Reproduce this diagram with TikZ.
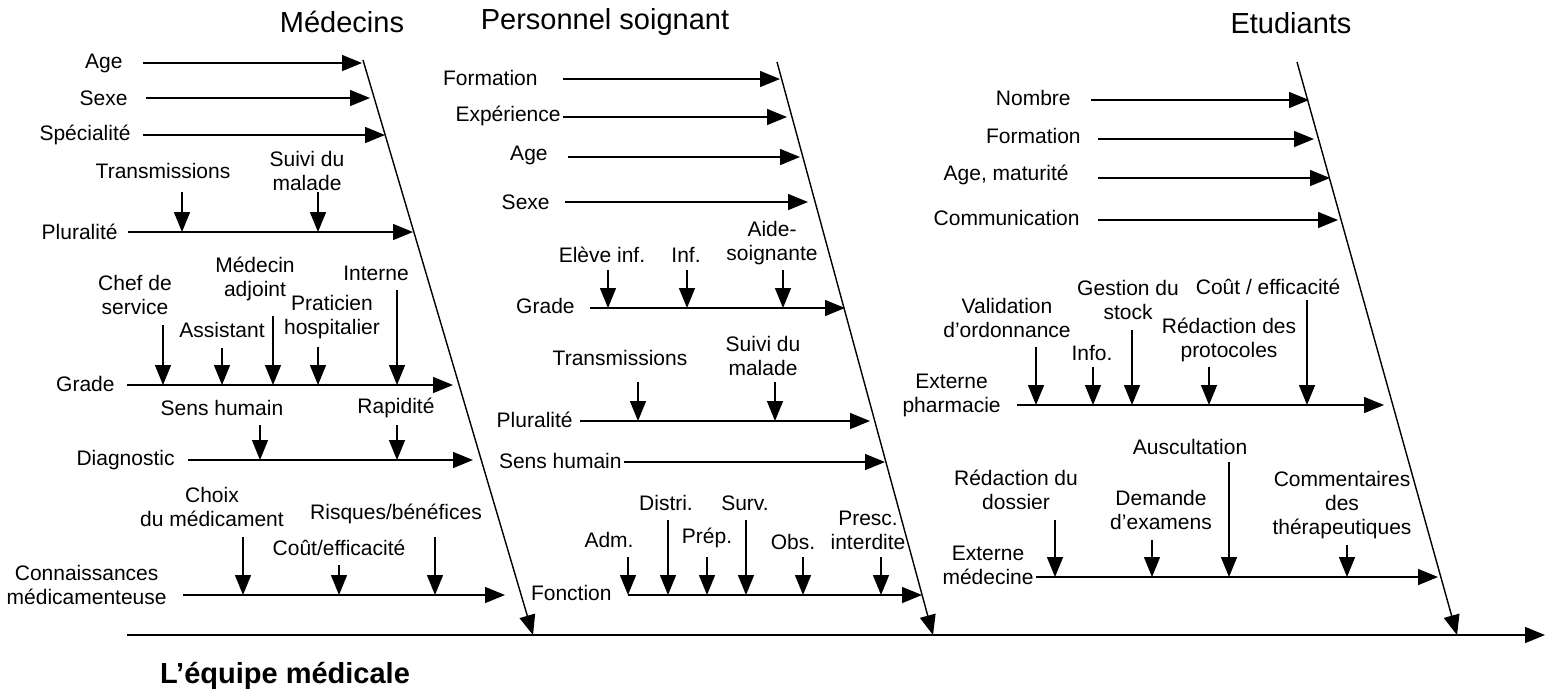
\documentclass[tikz,border=0pt]{standalone}
\usepackage{fontspec}
\setmainfont{Liberation Sans}
\usetikzlibrary{arrows.meta}

\tikzstyle{lbl} = [inner sep=1pt, align=center, font=\fontsize{10.5}{12}\selectfont]
\tikzstyle{titleNode} = [inner sep=1pt, font=\fontsize{14.5}{17}\selectfont]
\tikzstyle{arrow} = [line width=0.7pt,-{Triangle[length=10pt,width=8pt]}]
\tikzstyle{mainArrow} = [line width=0.8pt,-{Triangle[length=10pt,width=8pt]}]

\begin{document}
\begin{tikzpicture}[x=0.5pt,y=-0.5pt]
    \useasboundingbox (0,0) rectangle (1545,693);

    % titres
    \node (tMed)[titleNode] at (342,22) {Médecins};
    \node (tPers)[titleNode] at (605,22) {Personnel soignant};
    \node (tEtu)[titleNode] at (1291,23) {Etudiants};
    \node (tEquipe)[titleNode, font=\fontsize{14.5}{17}\selectfont\bfseries] at (285,676) {L’équipe médicale};

    % arête principale
    \coordinate (mainL) at (127,635);
    \coordinate (mainR) at (1545,635);
    \draw [mainArrow] (mainL) -- (mainR);

    % ----- Médecins -----
    \coordinate (medTop) at (363,60);
    \coordinate (medBot) at (533,635);
    \draw [arrow] (medTop) -- (medBot);

    \node (mAge)[lbl, anchor=east] at (125,63) {Age};
    \node (mSexe)[lbl, anchor=east] at (130,98) {Sexe};
    \node (mSpec)[lbl, anchor=east] at (133,135) {Spécialité};
    \node (mPlur)[lbl, anchor=east] at (120,232) {Pluralité};
    \node (mGrade)[lbl, anchor=east] at (117,384) {Grade};
    \node (mDiag)[lbl, anchor=east] at (177,460) {Diagnostic};
    \node (mConn)[lbl, anchor=east] at (169,585) {Connaissances\\médicamenteuse};
    \coordinate (mAgeE) at (362,63);
    \coordinate (mSexeE) at (370,98);
    \coordinate (mSpecE) at (385,135);
    \coordinate (mPlurE) at (413,232);
    \coordinate (mGradeE) at (453,385);
    \coordinate (mDiagE) at (473,460);
    \coordinate (mConnE) at (505,595);
    \draw [arrow] ([xshift=9pt]mAge.east) -- (mAgeE);
    \draw [arrow] ([xshift=8pt]mSexe.east) -- (mSexeE);
    \draw [arrow] ([xshift=5pt]mSpec.east) -- (mSpecE);
    \draw [arrow] ([xshift=4pt]mPlur.east) -- (mPlurE);
    \draw [arrow] ([xshift=5pt]mGrade.east |- mGradeE) -- (mGradeE);
    \draw [arrow] ([xshift=5.5pt]mDiag.east) -- (mDiagE);
    \draw [arrow] ([xshift=7pt]mConn.east |- mConnE) -- (mConnE);

    \node (mTrans)[lbl] at (163,171) {Transmissions};
    \node (mSuivi)[lbl] at (307,171) {Suivi du\\malade};
    \node (mChef)[lbl] at (135,295) {Chef de\\service};
    \node (mAssist)[lbl] at (222,330) {Assistant};
    \node (mAdj)[lbl] at (255,279) {Médecin\\adjoint};
    \node (mPrat)[lbl] at (332,317) {Praticien\\hospitalier};
    \node (mInterne)[lbl] at (376,273) {Interne};
    \node (mSens)[lbl] at (222,408) {Sens humain};
    \node (mRapid)[lbl] at (396,408) {Rapidité};
    \node (mChoix)[lbl] at (212,507) {Choix\\du médicament};
    \node (mCout)[lbl] at (339,548) {Coût/efficacité};
    \node (mRisq)[lbl] at (396,514) {Risques/bénéfices};
    \coordinate (mTransA) at (182,192);
    \coordinate (mSuiviA) at (318,192);
    \coordinate (mChefA) at (163,325);
    \coordinate (mAssistA) at (222,348);
    \coordinate (mAdjA) at (273,316);
    \coordinate (mPratA) at (318,347);
    \coordinate (mInterneA) at (397,290);
    \coordinate (mSensA) at (260,425);
    \coordinate (mRapidA) at (397,425);
    \coordinate (mChoixA) at (243,537);
    \coordinate (mCoutA) at (339,565);
    \coordinate (mRisqA) at (435,537);
    \draw [arrow] (mTransA) -- (mTransA |- mPlurE);
    \draw [arrow] (mSuiviA) -- (mSuiviA |- mPlurE);
    \draw [arrow] (mChefA) -- (mChefA |- mGradeE);
    \draw [arrow] (mAssistA) -- (mAssistA |- mGradeE);
    \draw [arrow] (mAdjA) -- (mAdjA |- mGradeE);
    \draw [arrow] (mPratA) -- (mPratA |- mGradeE);
    \draw [arrow] (mInterneA) -- (mInterneA |- mGradeE);
    \draw [arrow] (mSensA) -- (mSensA |- mDiagE);
    \draw [arrow] (mRapidA) -- (mRapidA |- mDiagE);
    \draw [arrow] (mChoixA) -- (mChoixA |- mConnE);
    \draw [arrow] (mCoutA) -- (mCoutA |- mConnE);
    \draw [arrow] (mRisqA) -- (mRisqA |- mConnE);

    % ----- Personnel soignant -----
    \coordinate (persTop) at (777,62);
    \coordinate (persBot) at (933,635);
    \draw [arrow] (persTop) -- (persBot);

    \node (pForm)[lbl, anchor=east] at (540,78) {Formation};
    \node (pExp)[lbl, anchor=east] at (563,116) {Expérience};
    \node (pAge)[lbl, anchor=east] at (550,155) {Age};
    \node (pSexe)[lbl, anchor=east] at (552,202) {Sexe};
    \node (pGrade)[lbl, anchor=east] at (577,306) {Grade};
    \node (pPlur)[lbl, anchor=east] at (575,420) {Pluralité};
    \node (pSens)[lbl, anchor=east] at (624,461) {Sens humain};
    \node (pFonc)[lbl, anchor=east] at (614,593) {Fonction};
    \coordinate (pFormE) at (780,79);
    \coordinate (pExpE) at (787,117);
    \coordinate (pAgeE) at (800,157);
    \coordinate (pSexeE) at (808,202);
    \coordinate (pGradeE) at (845,308);
    \coordinate (pPlurE) at (870,421);
    \coordinate (pSensE) at (885,462);
    \coordinate (pFoncE) at (922,595);
    \draw [arrow] ([xshift=11.5pt]pForm.east |- pFormE) -- (pFormE);
    \draw [arrow] (pExp.east |- pExpE) -- (pExpE);
    \draw [arrow] ([xshift=9pt]pAge.east |- pAgeE) -- (pAgeE);
    \draw [arrow] ([xshift=6.5pt]pSexe.east) -- (pSexeE);
    \draw [arrow] ([xshift=6.5pt]pGrade.east |- pGradeE) -- (pGradeE);
    \draw [arrow] ([xshift=2.5pt]pPlur.east |- pPlurE) -- (pPlurE);
    \draw [arrow] (pSens.east |- pSensE) -- (pSensE);
    \draw [arrow] ([xshift=7pt]pFonc.east |- pFoncE) -- (pFoncE);

    \node (pEleve)[lbl] at (602,255) {Elève inf.};
    \node (pInf)[lbl] at (686,255) {Inf.};
    \node (pAide)[lbl] at (772,243) {Aide-\\soignante};
    \node (pTrans)[lbl] at (620,358) {Transmissions};
    \node (pSuivi)[lbl] at (763,356) {Suivi du\\malade};
    \node (pAdm)[lbl] at (609,540) {Adm.};
    \node (pDistri)[lbl] at (666,503) {Distri.};
    \node (pPrep)[lbl] at (707,538) {Prép.};
    \node (pSurv)[lbl] at (745,503) {Surv.};
    \node (pObs)[lbl] at (793,542) {Obs.};
    \node (pPresc)[lbl] at (868,530) {Presc.\\interdite};
    \coordinate (pEleveA) at (608,270);
    \coordinate (pInfA) at (687,270);
    \coordinate (pAideA) at (783,270);
    \coordinate (pTransA) at (638,382);
    \coordinate (pSuiviA) at (775,382);
    \coordinate (pAdmA) at (628,557);
    \coordinate (pDistriA) at (668,520);
    \coordinate (pPrepA) at (707,557);
    \coordinate (pSurvA) at (746,520);
    \coordinate (pObsA) at (803,557);
    \coordinate (pPrescA) at (881,557);
    \draw [arrow] (pEleveA) -- (pEleveA |- pGradeE);
    \draw [arrow] (pInfA) -- (pInfA |- pGradeE);
    \draw [arrow] (pAideA) -- (pAideA |- pGradeE);
    \draw [arrow] (pTransA) -- (pTransA |- pPlurE);
    \draw [arrow] (pSuiviA) -- (pSuiviA |- pPlurE);
    \draw [arrow] (pAdmA) -- (pAdmA |- pFoncE);
    \draw [arrow] (pDistriA) -- (pDistriA |- pFoncE);
    \draw [arrow] (pPrepA) -- (pPrepA |- pFoncE);
    \draw [arrow] (pSurvA) -- (pSurvA |- pFoncE);
    \draw [arrow] (pObsA) -- (pObsA |- pFoncE);
    \draw [arrow] (pPrescA) -- (pPrescA |- pFoncE);

    % ----- Etudiants -----
    \coordinate (etuTop) at (1297,62);
    \coordinate (etuBot) at (1457,635);
    \draw [arrow] (etuTop) -- (etuBot);

    \node (eNomb)[lbl, anchor=east] at (1073,98) {Nombre};
    \node (eForm)[lbl, anchor=east] at (1083,136) {Formation};
    \node (eAge)[lbl, anchor=east] at (1071,175) {Age, maturité};
    \node (eComm)[lbl, anchor=east] at (1082,218) {Communication};
    \node (ePharm)[lbl, anchor=east] at (1003,395) {Externe\\pharmacie};
    \node (eMed)[lbl, anchor=east] at (1036,565) {Externe\\médecine};
    \coordinate (eNombE) at (1309,100);
    \coordinate (eFormE) at (1314,139);
    \coordinate (eAgeE) at (1330,178);
    \coordinate (eCommE) at (1338,220);
    \coordinate (ePharmE) at (1384,405);
    \coordinate (eMedE) at (1438,577);
    \draw [arrow] ([xshift=9pt]eNomb.east |- eNombE) -- (eNombE);
    \draw [arrow] ([xshift=7.5pt]eForm.east |- eFormE) -- (eFormE);
    \draw [arrow] ([xshift=13.5pt]eAge.east |- eAgeE) -- (eAgeE);
    \draw [arrow] ([xshift=8pt]eComm.east |- eCommE) -- (eCommE);
    \draw [arrow] ([xshift=7pt]ePharm.east |- ePharmE) -- (ePharmE);
    \draw [arrow] (eMed.east |- eMedE) -- (eMedE);

    \node (eValid)[lbl] at (1007,318) {Validation\\d’ordonnance};
    \node (eInfo)[lbl] at (1092,353) {Info.};
    \node (eStock)[lbl] at (1128,300) {Gestion du\\stock};
    \node (eProto)[lbl] at (1229,340) {Rédaction des\\protocoles};
    \node (eCout)[lbl] at (1268,287) {Coût / efficacité};
    \node (eAusc)[lbl] at (1190,447) {Auscultation};
    \node (eDoss)[lbl] at (1016,490) {Rédaction du\\dossier};
    \node (eExam)[lbl] at (1161,510) {Demande\\d'examens};
    \node (eComment)[lbl] at (1342,505) {Commentaires\\des\\thérapeutiques};
    \coordinate (eValidA) at (1036,347);
    \coordinate (eInfoA) at (1093,367);
    \coordinate (eStockA) at (1132,330);
    \coordinate (eProtoA) at (1209,367);
    \coordinate (eCoutA) at (1307,300);
    \coordinate (eAuscA) at (1229,462);
    \coordinate (eDossA) at (1055,520);
    \coordinate (eExamA) at (1152,540);
    \coordinate (eCommentA) at (1347,545);
    \draw [arrow] (eValidA) -- (eValidA |- ePharmE);
    \draw [arrow] (eInfoA) -- (eInfoA |- ePharmE);
    \draw [arrow] (eStockA) -- (eStockA |- ePharmE);
    \draw [arrow] (eProtoA) -- (eProtoA |- ePharmE);
    \draw [arrow] (eCoutA) -- (eCoutA |- ePharmE);
    \draw [arrow] (eAuscA) -- (eAuscA |- eMedE);
    \draw [arrow] (eDossA) -- (eDossA |- eMedE);
    \draw [arrow] (eExamA) -- (eExamA |- eMedE);
    \draw [arrow] (eCommentA) -- (eCommentA |- eMedE);

\end{tikzpicture}
\end{document}
